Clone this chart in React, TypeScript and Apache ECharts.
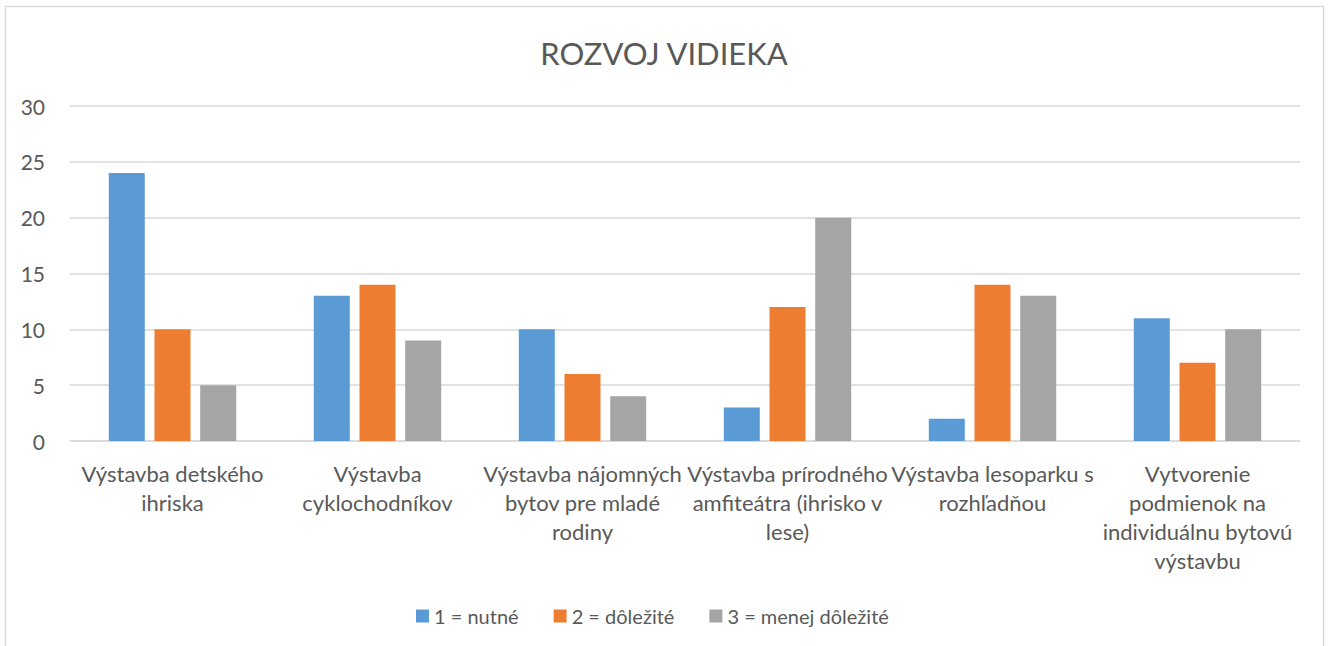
import React, { useEffect, useRef } from "react";
import * as echarts from "echarts";

const title = "ROZVOJ VIDIEKA";
const categories = [
  "Výstavba detského\nihriska",
  "Výstavba\ncyklochodníkov",
  "Výstavba nájomných\nbytov pre mladé\nrodiny",
  "Výstavba prírodného\namfiteátra (ihrisko v\nlese)",
  "Výstavba lesoparku s\nrozhľadňou",
  "Vytvorenie\npodmienok na\nindividuálnu bytovú\nvýstavbu",
];
const seriesNames = ["1 = nutné", "2 = dôležité", "3 = menej dôležité"];
const nutne = [24, 13, 10, 3, 2, 11];
const dolezite = [10, 14, 6, 12, 14, 7];
const menejDolezite = [5, 9, 4, 20, 13, 10];
const colors = ["#5B9BD5", "#ED7D31", "#A5A5A5"];

const FONT = "Lato, 'Open Sans', sans-serif";

export default function App() {
  const ref = useRef<HTMLDivElement>(null);
  useEffect(() => {
    if (!ref.current) return;
    const chart = echarts.init(ref.current, undefined, { renderer: "svg" });
    const values = [nutne, dolezite, menejDolezite];
    chart.setOption({
      animation: false,
      color: colors,
      textStyle: { fontFamily: FONT },
      title: {
        text: title,
        left: "center",
        top: 32,
        textStyle: { fontSize: 31, fontWeight: "normal", color: "#595959", fontFamily: FONT },
      },
      graphic: [
        {
          type: "rect",
          shape: { x: 5.5, y: 6.5, width: 1318, height: 700 },
          style: { fill: "none", stroke: "#d9d9d9", lineWidth: 1.5 },
          silent: true,
        },
      ],
      legend: {
        data: seriesNames,
        left: 411,
        top: 601,
        icon: "rect",
        itemWidth: 13,
        itemHeight: 13,
        itemGap: 35,
        textStyle: { fontSize: 20, color: "#595959", fontFamily: FONT },
      },
      grid: { left: 70, right: 28, top: 106, bottom: 205, containLabel: false },
      xAxis: {
        type: "category",
        data: categories,
        axisLine: { show: true, lineStyle: { color: "#d9d9d9", width: 1.5 } },
        axisTick: { show: false },
        axisLabel: {
          interval: 0,
          fontSize: 22,
          lineHeight: 29,
          color: "#595959",
          margin: 18,
          fontFamily: FONT,
        },
      },
      yAxis: {
        type: "value",
        min: 0,
        max: 30,
        interval: 5,
        axisLine: { show: false },
        axisTick: { show: false },
        splitLine: { lineStyle: { color: "#d9d9d9", width: 1.5 } },
        axisLabel: { fontSize: 21, color: "#595959", margin: 25, fontFamily: FONT },
      },
      series: seriesNames.map((name, i) => ({
        name,
        type: "bar",
        data: values[i],
        barWidth: 36,
        barGap: "27%",
        itemStyle: { color: colors[i] },
      })),
    });
    return () => chart.dispose();
  }, []);
  return (
    <div
      ref={ref}
      style={{ position: "fixed", left: 0, top: 0, width: 1328, height: 646, background: "#fff" }}
    />
  );
}
